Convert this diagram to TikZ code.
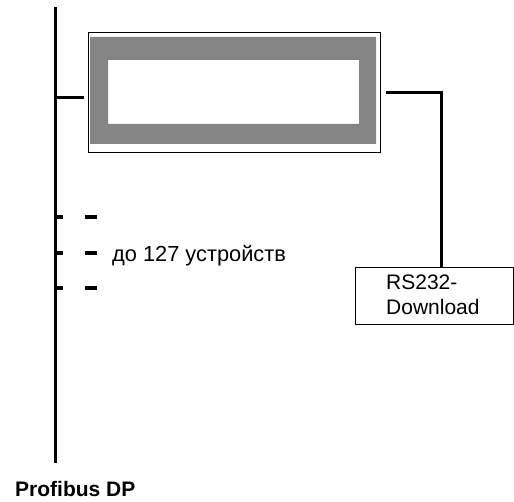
\documentclass[tikz,border=0pt]{standalone}
\usepackage{fontspec}
\setmainfont{Liberation Sans}
\begin{document}
\begin{tikzpicture}[x=1pt,y=-1pt,
  bus/.style={line width=3pt},
  thin/.style={line width=1pt},
  lbl/.style={inner sep=0pt,anchor=base west,font=\fontsize{21}{25}\selectfont},
  boxnode/.style={draw,line width=1pt,inner sep=0pt,anchor=north west}]
\useasboundingbox[fill=white] (0,0) rectangle (514,502);
% bus
\coordinate (bustop) at (55,7);
\coordinate (busbot) at (55,463);
\draw[bus] (bustop) -- (busbot);
% device
\node[boxnode,minimum width=292pt,minimum height=120pt] (dev) at (88,32) {};
\fill[color={rgb,255:red,133;green,133;blue,133},even odd rule]
  (90,37) rectangle (376,144) (108,60) rectangle (359,124);
\coordinate (stubL) at (84,98);
\draw[bus] (55,98) -- (stubL);
% RS232 box
\node[boxnode,minimum width=158pt,minimum height=57pt] (rs) at (355,267) {};
\coordinate (stubR) at (386,93);
\coordinate (corner) at (441,93);
\draw[bus] (stubR) -- (corner) -- (corner |- rs.north);
\node[lbl] (rs1) at (386,290) {RS232-};
\node[lbl] (rs2) at (386,315) {Download};
% dashed taps
\foreach \y/\n in {217/a,253/b,288/c}{
  \draw[line width=3.3pt] (55,\y) -- (63,\y);
  \draw[line width=3.3pt] (85,\y) -- (97,\y);
}
\node[lbl,font=\fontsize{21.8}{25}\selectfont] (dev127) at (112,262) {до 127 устройств};
\node[lbl,font=\fontsize{21}{25}\selectfont\bfseries] (pdp) at (15,496) {Profibus DP};
\end{tikzpicture}
\end{document}
